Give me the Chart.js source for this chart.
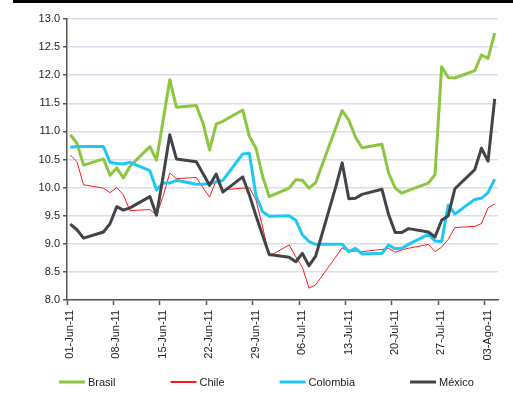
<!DOCTYPE html>
<html>
<head>
<meta charset="utf-8">
<script src="https://cdn.jsdelivr.net/npm/chart.js@4.4.0/dist/chart.umd.min.js"></script>
<style>
  html, body { margin: 0; padding: 0; background: #fff; }
  #wrap { position: relative; width: 513px; height: 408px; }
  #topbar { position: absolute; left: 13px; top: 0; width: 500px; height: 3px; background: #000; }
</style>
</head>
<body>
<div id="wrap">
  <div id="topbar"></div>
  <canvas id="ratesChart" width="513" height="408"></canvas>
</div>
<script>
// business days, counted from 01-Jun-11
const days = [0, 1, 2, 5, 6, 7, 8, 9, 12, 13, 14, 15, 16, 19, 20, 21, 22, 23, 26, 27, 28, 29, 30,
              33, 34, 35, 36, 37, 40, 41, 42, 43, 44, 47, 48, 49, 50, 51, 54, 55, 56, 57, 58, 61, 62, 63, 64];

const brasil = [10.94, 10.79, 10.40, 10.51, 10.22, 10.35, 10.17, 10.38, 10.73, 10.49, 11.20, 11.92, 11.43,
                11.46, 11.15, 10.67, 11.13, 11.18, 11.38, 10.91, 10.70, 10.20, 9.84,
                9.99, 10.14, 10.13, 9.99, 10.09, 11.05, 11.37, 11.20, 10.90, 10.71,
                10.77, 10.26, 9.99, 9.90, 9.95, 10.08, 10.23, 12.15, 11.96, 11.95, 12.08, 12.36, 12.30, 12.75];

const chile = [10.58, 10.46, 10.05, 9.99, 9.91, 10.00, 9.87, 9.59, 9.61, 9.51, 9.85, 10.26, 10.16,
               10.18, 10.00, 9.83, 10.13, 9.96, 9.99, 10.00, 9.78, 9.30, 8.78,
               8.98, 8.77, 8.58, 8.21, 8.27, 8.76, 8.93, 8.86, 8.87, 8.86,
               8.90, 8.92, 8.85, 8.89, 8.92, 8.99, 8.86, 8.94, 9.08, 9.29, 9.31, 9.36, 9.64, 9.71];

const colombia = [10.72, 10.73, 10.73, 10.73, 10.45, 10.43, 10.42, 10.45, 10.30, 9.96, 10.08, 10.08, 10.13,
                  10.06, 10.06, 10.07, 10.10, 10.13, 10.60, 10.61, 9.86, 9.57, 9.49,
                  9.50, 9.42, 9.16, 9.04, 8.99, 8.99, 8.99, 8.86, 8.92, 8.82,
                  8.83, 8.98, 8.91, 8.92, 8.99, 9.17, 9.05, 9.04, 9.69, 9.53, 9.79, 9.81, 9.91, 10.15];

const mexico = [9.35, 9.25, 9.10, 9.21, 9.36, 9.66, 9.60, 9.64, 9.84, 9.51, 10.20, 10.94, 10.51,
                10.46, 10.25, 10.04, 10.24, 9.92, 10.19, 9.87, 9.50, 9.15, 8.81,
                8.76, 8.68, 8.83, 8.61, 8.78, 10.00, 10.44, 9.80, 9.81, 9.88,
                9.97, 9.52, 9.20, 9.20, 9.27, 9.21, 9.12, 9.42, 9.50, 9.98, 10.32, 10.70, 10.47, 11.58];

const tickDays = [0, 7, 14, 21, 28, 35, 42, 49, 56, 63];
const tickLabels = ['01-Jun-11', '08-Jun-11', '15-Jun-11', '22-Jun-11', '29-Jun-11',
                    '06-Jul-11', '13-Jul-11', '20-Jul-11', '27-Jul-11', '03-Ago-11'];

// points sit in the middle of their day
const toPoints = vals => days.map((d, i) => ({ x: d + 0.5, y: vals[i] }));

const fontFamily = "'Liberation Sans', Arial, sans-serif";
const font = { family: fontFamily, size: 11 };

// legend drawn by hand: the built-in one can't do wide gaps on one short row
const bottomLegend = {
    id: 'bottomLegend',
    afterDraw(chart) {
        const c = chart.ctx;
        c.save();
        c.font = '11px ' + fontFamily;
        c.textBaseline = 'middle';
        let x = 59;
        const y = 382;
        chart.data.datasets.forEach(ds => {
            const h = Math.max(ds.borderWidth, 2);
            c.fillStyle = ds.borderColor;
            c.fillRect(x, y - h / 2, 26, h);
            c.fillStyle = '#222';
            c.fillText(ds.label, x + 29, y + 1);
            x += 29 + c.measureText(ds.label).width + 55;
        });
        c.restore();
    }
};

const ctx = document.getElementById('ratesChart').getContext('2d');
const ratesChart = new Chart(ctx, {
    type: 'line',
    data: {
        datasets: [
            { label: 'Brasil', data: toPoints(brasil), borderColor: '#8cc540', borderWidth: 3, order: 4 },
            { label: 'Chile', data: toPoints(chile), borderColor: '#ff1a1a', borderWidth: 1, order: 3 },
            { label: 'Colombia', data: toPoints(colombia), borderColor: '#1ec8f5', borderWidth: 3, order: 2 },
            { label: 'México', data: toPoints(mexico), borderColor: '#424448', borderWidth: 3, order: 1 }
        ]
    },
    options: {
        responsive: false,
        animation: false,
        layout: { padding: { top: 19, right: 15, bottom: 42, left: 0 } },
        elements: {
            point: { radius: 0 },
            line: { tension: 0, borderJoinStyle: 'round' }
        },
        plugins: {
            tooltip: { enabled: false },
            legend: { display: false }
        },
        scales: {
            x: {
                type: 'linear',
                min: 0,
                max: 65,
                afterBuildTicks: scale => { scale.ticks = tickDays.map(v => ({ value: v })); },
                afterFit: scale => { scale.height = 66; },
                ticks: {
                    font: font,
                    color: '#222',
                    minRotation: 90,
                    maxRotation: 90,
                    labelOffset: 3,
                    padding: 5,
                    callback: (v) => tickLabels[tickDays.indexOf(v)]
                },
                grid: { drawOnChartArea: false, tickLength: 5, tickColor: '#555', tickWidth: 1.5 },
                border: { color: '#555', width: 1.5 }
            },
            y: {
                min: 8,
                max: 13,
                afterFit: scale => { scale.width = 67; },
                ticks: {
                    stepSize: 0.5,
                    font: font,
                    color: '#222',
                    padding: 3,
                    callback: v => v.toFixed(1)
                },
                grid: { color: '#dcdcee', lineWidth: 1.5, tickLength: 4, tickColor: '#555' },
                border: { color: '#555', width: 1.5 }
            }
        }
    },
    plugins: [bottomLegend]
});
</script>
</body>
</html>
